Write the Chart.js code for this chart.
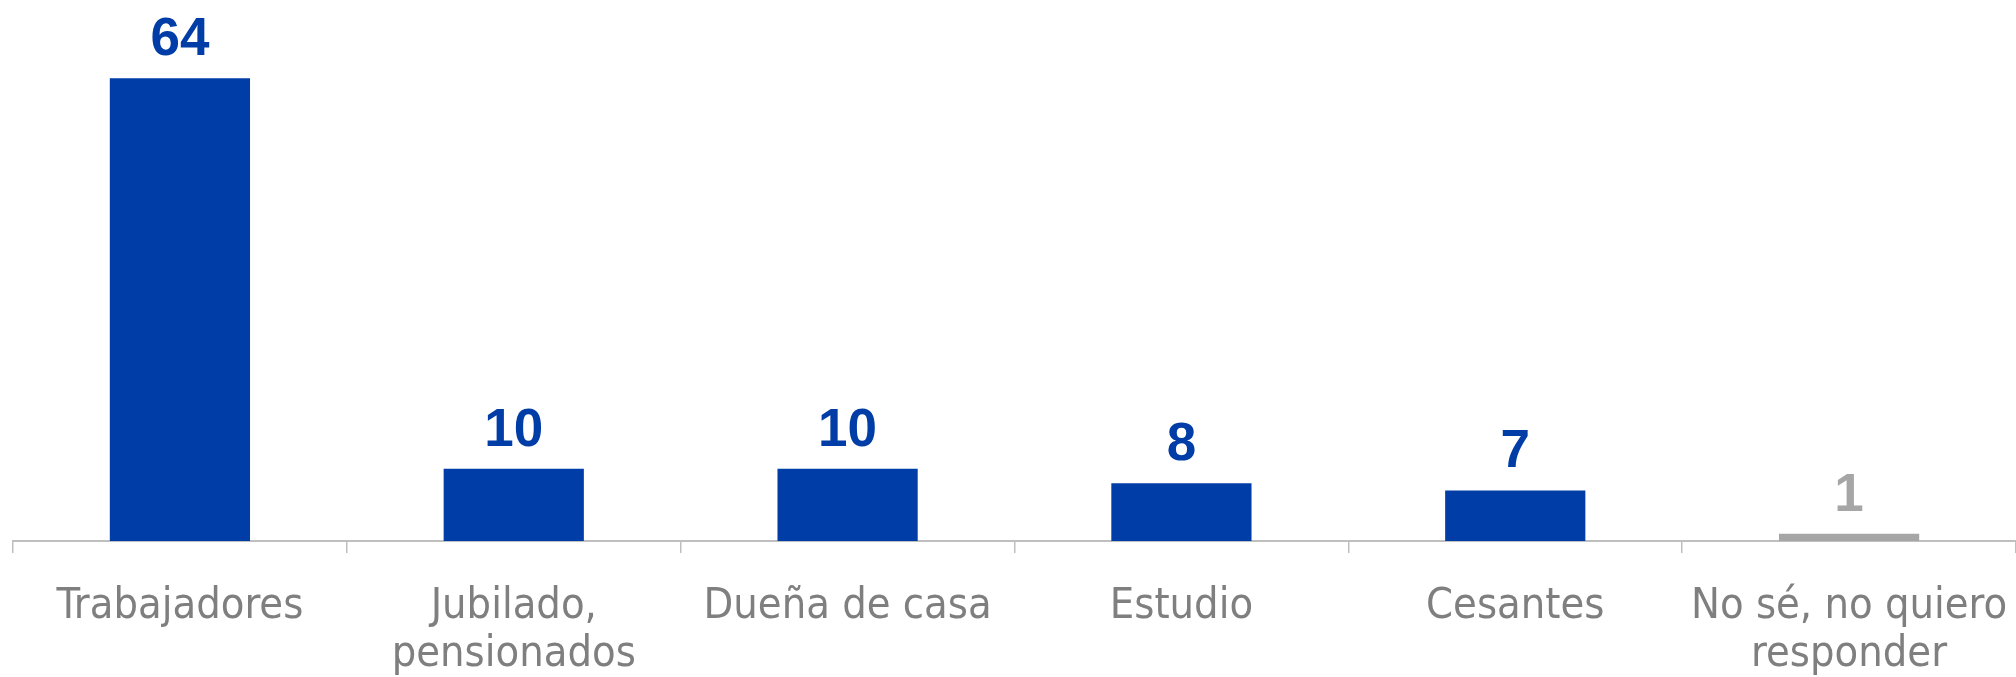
<!DOCTYPE html>
<html>
<head>
<meta charset="utf-8">
<script src="https://cdn.jsdelivr.net/npm/chart.js@4/dist/chart.umd.min.js"></script>
<style>
  html, body { margin: 0; padding: 0; background: #ffffff; }
  #wrap { width: 2016px; height: 677px; position: relative; }
</style>
</head>
<body>
<div id="wrap"><canvas id="c" width="2016" height="677"></canvas></div>
<script>
const categories = [
  'Trabajadores',
  ['Jubilado,', 'pensionados'],
  'Dueña de casa',
  'Estudio',
  'Cesantes',
  ['No sé, no quiero', 'responder']
];
const values = [64, 10, 10, 8, 7, 1];
const barColors = ['#003DA6', '#003DA6', '#003DA6', '#003DA6', '#003DA6', '#A6A6A6'];
const labelColors = ['#003DA6', '#003DA6', '#003DA6', '#003DA6', '#003DA6', '#A6A6A6'];

const valueLabels = {
  id: 'valueLabels',
  afterDatasetsDraw(chart) {
    const ctx = chart.ctx;
    const meta = chart.getDatasetMeta(0);
    ctx.save();
    ctx.font = 'bold 53px "Liberation Sans", Arial, sans-serif';
    ctx.textAlign = 'center';
    ctx.textBaseline = 'alphabetic';
    meta.data.forEach((bar, i) => {
      ctx.fillStyle = labelColors[i];
      ctx.fillText(String(values[i]), bar.x, bar.y - 23);
    });
    ctx.restore();
  }
};

new Chart(document.getElementById('c'), {
  type: 'bar',
  data: {
    labels: categories,
    datasets: [{
      data: values,
      backgroundColor: barColors,
      borderWidth: 0,
      barPercentage: 0.42,
      categoryPercentage: 1.0
    }]
  },
  options: {
    responsive: false,
    animation: false,
    events: [],
    layout: { padding: { left: 13, right: -6, top: 35, bottom: 0 } },
    plugins: { legend: { display: false }, tooltip: { enabled: false } },
    scales: {
      x: {
        offset: true,
        afterFit(scale) { scale.height = 136; scale.paddingLeft = 0; scale.paddingRight = 0; },
        border: { display: true, color: '#BFBFBF', width: 2 },
        grid: { display: true, drawOnChartArea: false, drawTicks: true, tickLength: 12, color: '#BFBFBF', lineWidth: 1.5, offset: true },
        ticks: {
          color: '#7F7F7F',
          font: { family: '"DejaVu Sans Condensed", "DejaVu Sans", sans-serif', size: 43, lineHeight: 1.12 },
          maxRotation: 0,
          minRotation: 0,
          autoSkip: false,
          padding: 30
        }
      },
      y: {
        display: false,
        min: 0,
        max: 70
      }
    }
  },
  plugins: [valueLabels]
});
</script>
</body>
</html>
